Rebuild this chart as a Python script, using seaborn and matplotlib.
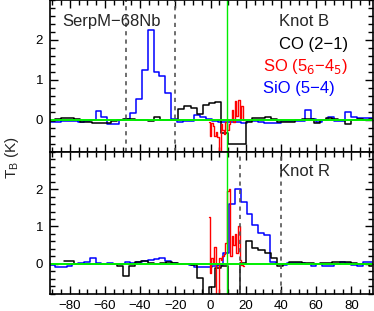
import numpy as np
import pandas as pd
import matplotlib
matplotlib.use('Agg')
import matplotlib.pyplot as plt
import matplotlib.ticker as ticker
import seaborn as sns

sns.set_theme(style='ticks')
plt.rcParams['font.family'] = ['Liberation Sans', 'DejaVu Sans']

# channel grids (km/s): start, width
sio_v0, sio_dv = -93.35, 3.3
co_v0, co_dv = -93.55, 3.5
so_v0, so_dv = -1.0, 0.9

v_sys = 9.6
knot_b_limits = [-48, -20]
knot_r_limits = [17, 40]

# Knot B spectra (K)
sio_b = [-0.04, -0.04, -0.04, -0.02, -0.03, -0.02, -0.05, -0.03, 0.0, 0.23, 0.08,
         -0.10, -0.10, 0.0, 0.02, 0.18, 0.52, 1.25, 2.25, 1.21, 1.10, 0.68, 0.02,
         -0.04, -0.03, -0.02, 0.12, 0.07, 0.02, -0.02, -0.05, -0.04, -0.06, -0.06,
         -0.08, -0.03, -0.03, -0.05, -0.07, -0.07, -0.07, -0.03, -0.02, -0.03, -0.02,
         0.25, 0.03, -0.05, 0.0, 0.08, -0.02, -0.02, 0.20, 0.07, 0.05, 0.06, 0.05]
co_b = [-0.02, -0.02, 0.02, 0.04, 0.04, 0.02, -0.04, -0.06, -0.08, -0.08, -0.08,
        -0.02, 0.0, 0.02, 0.02, 0.01, 0.0, -0.02, 0.08, 0.0, 0.0, 0.0, 0.27, 0.35,
        0.30, 0.15, 0.37, 0.42, 0.46, -0.33, -0.60, -0.60, -0.60, -0.04, 0.04, 0.06,
        0.08, 0.02, -0.04, -0.04, -0.05, 0.0, 0.02, 0.02, -0.07, 0.0, 0.06, 0.03,
        0.0, -0.10, 0.0, 0.02, 0.0, 0.02]
so_b = [-0.05, -0.40, -0.08, -0.15, -0.40, -0.30, -0.42, -0.85, -0.10, -0.25,
        -0.35, -0.05, -0.25, -0.10, 0.0, 0.25, -0.05, 0.48, 0.10, 0.50, 0.05, 0.35,
        0.0]

# Knot R spectra (K)
sio_r = [-0.03, -0.03, -0.09, -0.09, -0.05, 0.0, 0.02, 0.04, 0.15, 0.02, 0.0,
         0.02, 0.0, 0.0, 0.04, 0.02, 0.05, 0.07, 0.10, 0.12, 0.15, 0.06, 0.02, 0.0,
         -0.02, -0.03, -0.08, -0.09, -0.08, -0.05, -0.03, 0.30, 1.60, 2.00, 1.67,
         1.33, 1.05, 0.82, 0.77, 0.05, 0.0, -0.04, 0.02, 0.02, 0.02, 0.0, -0.07,
         0.0, -0.07, -0.07, 0.0, 0.05, 0.02, -0.03, -0.05, 0.05, 0.05]
co_r = [np.nan, np.nan, np.nan, 0.06, 0.06, 0.0, 0.0, 0.0, -0.02, 0.0, 0.0, -0.02,
        -0.07, -0.33, -0.05, 0.04, 0.08, 0.02, 0.0, 0.02, 0.05, 0.02, 0.0, 0.0,
        -0.04, -0.38, -1.20, -0.63, -0.12, -0.05, -1.20, -1.20, 0.03, 0.62, 0.42,
        0.38, 0.29, 0.15, -0.05, 0.0, 0.05, 0.04, 0.02, 0.02, 0.0, 0.02, 0.03, 0.05,
        0.05, 0.04, 0.02, 0.0, -0.02, -0.06]
so_r = [1.25, -0.25, 0.15, 0.05, 0.46, -0.85, -0.85, 0.15, 0.10, 0.20, 0.25, 0.55,
        1.95, 2.00, 0.20, 0.75, 0.50, 0.80, 0.30, 1.00, 0.10, -0.03, -0.05]


def velocities(v0, dv, n):
    return v0 + dv * np.arange(n)


def spectrum(ax, v0, dv, values, color, lw=1.1):
    df = pd.DataFrame({'v': velocities(v0, dv, len(values)), 't': values}).dropna()
    sns.lineplot(data=df, x='v', y='t', ax=ax, color=color, lw=lw,
                 drawstyle='steps-mid', estimator=None, sort=False)


def style_axis(ax, show_xlabels):
    ax.set_xlim(-91.2, 92.3)
    ax.set_ylim(-0.8, 3.0)
    ax.xaxis.set_major_locator(ticker.MultipleLocator(20))
    ax.xaxis.set_minor_locator(ticker.MultipleLocator(5))
    ax.yaxis.set_major_locator(ticker.FixedLocator([0, 1, 2]))
    ax.yaxis.set_minor_locator(ticker.MultipleLocator(0.2))
    ax.tick_params(which='both', direction='in', top=True, right=True,
                   width=1.0, colors='black', labelsize=9.5, pad=5)
    ax.tick_params(which='major', length=6)
    ax.tick_params(which='minor', length=3.5)
    if not show_xlabels:
        ax.tick_params(labelbottom=False)
    for s in ax.spines.values():
        s.set_linewidth(1.2)
        s.set_color('black')
    ax.set_xlabel('')
    ax.set_ylabel('')


fig = plt.figure(figsize=(3.74, 3.11), dpi=100)
ax_b = fig.add_axes([50 / 374, 1 - 152 / 311, 323 / 374, 152 / 311])
ax_r = fig.add_axes([50 / 374, 1 - 293.5 / 311, 323 / 374, 141.5 / 311])

panels = [(ax_b, sio_b, co_b, so_b, knot_b_limits),
          (ax_r, sio_r, co_r, so_r, knot_r_limits)]
for ax, sio, co, so, lims in panels:
    spectrum(ax, sio_v0, sio_dv, sio, '#0000ff')
    spectrum(ax, co_v0, co_dv, co, 'black')
    spectrum(ax, so_v0, so_dv, so, '#ff0000', lw=1.0)
    for x in lims:
        ax.axvline(x, color='#555555', lw=1.2, ls=(0, (2.5, 2.5)))
    ax.axhline(0, color='#00ee00', lw=1.4)
    ax.axvline(v_sys, color='#00ee00', lw=1.0)

style_axis(ax_b, False)
style_axis(ax_r, True)

label_size = 12
ax_b.text(-84.4, 2.47, 'SerpM\u221268Nb', fontsize=label_size, va='center', ha='left')
ax_b.text(38.8, 2.47, 'Knot B', fontsize=label_size, va='center', ha='left')
ax_b.text(38.8, 1.9, 'CO (2\u22121)', fontsize=label_size, color='black', va='center')
ax_b.text(29.7, 1.33, 'SO (5$_6$\u22124$_5$)', fontsize=label_size, color='#ff0000',
          va='center')
ax_b.text(29.7, 0.8, 'SiO (5\u22124)', fontsize=label_size, color='#0000ff', va='center')
ax_r.text(38.8, 2.47, 'Knot R', fontsize=label_size, va='center', ha='left')

fig.text(12 / 374, 1 - 158 / 311, 'T$_\\mathregular{B}$ (K)', rotation=90,
         fontsize=11, va='center', ha='center')

fig.savefig('out.png', dpi=100)
